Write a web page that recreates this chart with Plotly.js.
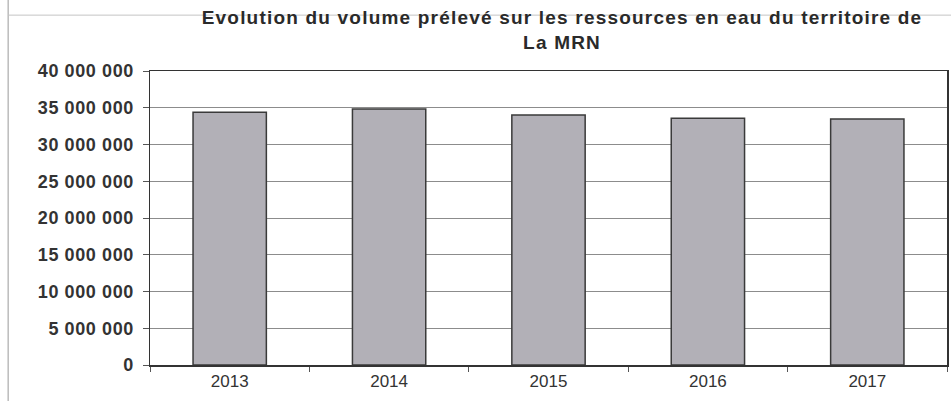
<!DOCTYPE html>
<html>
<head>
<meta charset="utf-8">
<script src="https://cdn.plot.ly/plotly-3.0.1.min.js"></script>
<style>
  html, body { margin: 0; padding: 0; background: #ffffff; }
  #chart { width: 951px; height: 401px; }
  #chart .gtitle { letter-spacing: 1.2px; }
  #chart .ytick text { letter-spacing: 0.6px; }
</style>
</head>
<body>
<div id="chart"></div>
<script>
const years = ["2013", "2014", "2015", "2016", "2017"];
const volumes = [34380000, 34830000, 34000000, 33560000, 33470000];
const yTickValues = [0, 5000000, 10000000, 15000000, 20000000, 25000000, 30000000, 35000000, 40000000];
const chartTitle = "Evolution du volume prélevé sur les ressources en eau du territoire de<br>La MRN";

const trace = {
  type: "bar",
  x: years,
  y: volumes,
  marker: { color: "#b2b0b7", line: { color: "#3a3a3a", width: 1.5 } },
  hoverinfo: "x+y"
};

const layout = {
  width: 951,
  height: 401,
  paper_bgcolor: "#ffffff",
  plot_bgcolor: "#ffffff",
  separators: ", ",
  margin: { l: 150, r: 4, t: 71, b: 36, pad: 0 },
  bargap: 0.54,
  showlegend: false,
  title: {
    text: chartTitle,
    font: { family: "Liberation Sans, Arial, sans-serif", size: 19, color: "#2a2a2a", weight: "bold" },
    x: 0.517, xref: "paper", xanchor: "center",
    y: 0.94, yref: "container", yanchor: "top"
  },
  font: { family: "Liberation Sans, Arial, sans-serif", color: "#333333" },
  xaxis: {
    type: "category",
    showline: true, linecolor: "#333333", linewidth: 1.5, mirror: true,
    ticks: "outside", tickson: "boundaries", ticklen: 5, tickcolor: "#555555",
    tickfont: { size: 17, color: "#333333" },
    showgrid: false
  },
  yaxis: {
    range: [0, 40000000],
    tickvals: yTickValues,
    tickformat: ",d",
    showline: true, linecolor: "#333333", linewidth: 1.5, mirror: true,
    ticks: "outside", ticklen: 6, tickcolor: "#555555",
    ticklabelstandoff: 5,
    tickfont: { size: 18, color: "#333333", weight: "bold" },
    gridcolor: "#8c8c8c", gridwidth: 1,
    zeroline: false
  },
  shapes: [
    { type: "line", xref: "paper", yref: "paper", x0: -0.178, x1: -0.178, y0: -0.2, y1: 1.3,
      line: { color: "#9a9a9a", width: 1 } },
    { type: "line", xref: "paper", yref: "paper", x0: -0.178, x1: 1.01, y0: 1.19, y1: 1.19,
      line: { color: "#c4c4c4", width: 1 } }
  ]
};

Plotly.newPlot("chart", [trace], layout, { displayModeBar: false, staticPlot: true });
</script>
</body>
</html>
